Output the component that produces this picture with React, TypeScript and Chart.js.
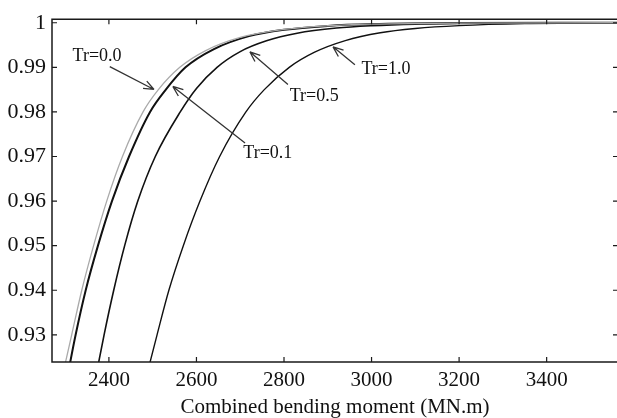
import React, { useEffect, useRef } from "react";
import { Chart, registerables } from "chart.js";

Chart.register(...registerables);

// ---- data ----
const xTicks = [2400, 2600, 2800, 3000, 3200, 3400];
const xTickLabels = ["2400", "2600", "2800", "3000", "3200", "3400"];
const yTicks = [0.93, 0.94, 0.95, 0.96, 0.97, 0.98, 0.99, 1.0];
const yTickLabels = ["0.93", "0.94", "0.95", "0.96", "0.97", "0.98", "0.99", "1"];

const tr00X = [2292, 2315, 2338, 2365, 2395, 2431, 2478, 2513, 2562, 2620, 2700, 2800, 2900, 3000, 3200, 3565];
const tr00Y = [0.92, 0.93, 0.94, 0.95, 0.96, 0.97, 0.98, 0.985, 0.99, 0.9937, 0.9967, 0.9985, 0.99933, 0.9997, 0.99994, 1.0];

const tr01X = [2304, 2324, 2347, 2375, 2407, 2446, 2494, 2530, 2575, 2640, 2720, 2800, 2900, 3000, 3200, 3565];
const tr01Y = [0.92, 0.93, 0.94, 0.95, 0.96, 0.97, 0.98, 0.985, 0.99, 0.9941, 0.997, 0.99843, 0.9993, 0.9997, 0.99994, 1.0];

const tr05X = [2369, 2389, 2411, 2436, 2466, 2506, 2563, 2600, 2647, 2700, 2760, 2830, 2920, 3000, 3100, 3250, 3565];
const tr05Y = [0.92, 0.93, 0.94, 0.95, 0.96, 0.97, 0.98, 0.98526, 0.99, 0.99353, 0.99595, 0.99765, 0.99881, 0.99934, 0.9997, 0.9999, 1.0];

const tr10X = [2484, 2510, 2537, 2570, 2608, 2653, 2713, 2755, 2812, 2870, 2940, 3020, 3100, 3200, 3350, 3565];
const tr10Y = [0.92, 0.93, 0.94, 0.95, 0.96, 0.97, 0.98, 0.985, 0.99, 0.9934, 0.996, 0.99775, 0.9987, 0.99935, 0.9998, 0.99995];

const seriesNames = ["Tr=0.0", "Tr=0.1", "Tr=0.5", "Tr=1.0"];

// annotation label positions (data coords) and arrow from/to (data coords)
const annoTextX = [2373, 2763, 2869, 3033];
const annoTextY = [0.99238, 0.97082, 0.98349, 0.98949];
const arrowFromX = [2402, 2711, 2809, 2962];
const arrowFromY = [0.99016, 0.97304, 0.98616, 0.9906];
const arrowToX = [2503, 2546, 2722, 2912];
const arrowToY = [0.98504, 0.98571, 0.99349, 0.9946];

const X_MIN = 2270;
const X_MAX = 3563;
const Y_MIN = 0.9239;
const Y_MAX = 1.0008;

const FONT = "'Liberation Serif', 'DejaVu Serif', 'Times New Roman', serif";

const zip = (xs: number[], ys: number[]) => xs.map((x, i) => ({ x, y: ys[i] }));

const framePlugin = {
  id: "frame",
  afterDraw(chart: any) {
    const { ctx, chartArea, scales } = chart;
    const { left, right, top, bottom } = chartArea;
    const xs = scales.x;
    const ys = scales.y;
    ctx.save();
    ctx.strokeStyle = "#1a1a1a";
    ctx.lineWidth = 1.5;
    ctx.beginPath();
    ctx.rect(left, top, right - left, bottom - top);
    ctx.stroke();
    const tl = 5;
    ctx.lineWidth = 1.2;
    ctx.beginPath();
    xTicks.forEach((v) => {
      const px = xs.getPixelForValue(v);
      ctx.moveTo(px, bottom);
      ctx.lineTo(px, bottom - tl);
      ctx.moveTo(px, top);
      ctx.lineTo(px, top + tl);
    });
    yTicks.forEach((v) => {
      const py = ys.getPixelForValue(v);
      ctx.moveTo(left, py);
      ctx.lineTo(left + tl, py);
      ctx.moveTo(right, py);
      ctx.lineTo(right - tl, py);
    });
    ctx.stroke();

    // annotations
    ctx.fillStyle = "#111";
    ctx.font = `18px ${FONT}`;
    ctx.textAlign = "center";
    ctx.textBaseline = "middle";
    seriesNames.forEach((name, i) => {
      ctx.fillText(name, xs.getPixelForValue(annoTextX[i]), ys.getPixelForValue(annoTextY[i]));
      const x0 = xs.getPixelForValue(arrowFromX[i]);
      const y0 = ys.getPixelForValue(arrowFromY[i]);
      const x1 = xs.getPixelForValue(arrowToX[i]);
      const y1 = ys.getPixelForValue(arrowToY[i]);
      ctx.strokeStyle = "#333";
      ctx.lineWidth = 1.3;
      ctx.beginPath();
      ctx.moveTo(x0, y0);
      ctx.lineTo(x1, y1);
      const ang = Math.atan2(y1 - y0, x1 - x0);
      const hl = 11;
      const ha = 0.38;
      ctx.moveTo(x1, y1);
      ctx.lineTo(x1 - hl * Math.cos(ang - ha), y1 - hl * Math.sin(ang - ha));
      ctx.moveTo(x1, y1);
      ctx.lineTo(x1 - hl * Math.cos(ang + ha), y1 - hl * Math.sin(ang + ha));
      ctx.stroke();
    });
    ctx.restore();
  },
};

export default function App() {
  const ref = useRef<HTMLCanvasElement>(null);
  useEffect(() => {
    document.body.style.margin = "0";
    const canvas = ref.current;
    if (!canvas) return;
    const mk = (label: string, xs: number[], ys: number[], color: string, width: number) => ({
      label,
      data: zip(xs, ys),
      borderColor: color,
      borderWidth: width,
      pointRadius: 0,
      fill: false,
      cubicInterpolationMode: "monotone" as const,
    });
    const chart = new Chart(canvas, {
      type: "line",
      data: {
        datasets: [
          mk(seriesNames[0], tr00X, tr00Y, "#aaaaaa", 1.3),
          mk(seriesNames[1], tr01X, tr01Y, "#111", 2),
          mk(seriesNames[2], tr05X, tr05Y, "#111", 1.6),
          mk(seriesNames[3], tr10X, tr10Y, "#111", 1.4),
        ],
      },
      options: {
        animation: false,
        responsive: false,
        devicePixelRatio: 1,
        layout: { padding: { top: 17, right: 2, left: 0, bottom: 0 } },
        plugins: { legend: { display: false }, tooltip: { enabled: false } },
        scales: {
          x: {
            type: "linear",
            min: X_MIN,
            max: X_MAX,
            grid: { display: false, drawTicks: false },
            border: { display: false },
            afterBuildTicks: (s: any) => {
              s.ticks = xTicks.map((v) => ({ value: v }));
            },
            afterFit: (s: any) => {
              s.height = 56;
            },
            ticks: {
              autoSkip: false,
              maxRotation: 0,
              padding: 6,
              color: "#111",
              font: { family: FONT, size: 21 },
              callback: (_v: any, i: number) => xTickLabels[i],
            },
            title: {
              display: true,
              text: "Combined bending moment (MN.m)",
              color: "#111",
              font: { family: FONT, size: 21, lineHeight: 1 },
              padding: { top: 0, bottom: 0 },
            },
          },
          y: {
            type: "linear",
            min: Y_MIN,
            max: Y_MAX,
            grid: { display: false, drawTicks: false },
            border: { display: false },
            afterBuildTicks: (s: any) => {
              s.ticks = yTicks.map((v) => ({ value: v }));
            },
            afterFit: (s: any) => {
              s.width = 52;
            },
            ticks: {
              autoSkip: false,
              padding: 6,
              color: "#111",
              font: { family: FONT, size: 22 },
              callback: (_v: any, i: number) => yTickLabels[i],
            },
          },
        },
      },
      plugins: [framePlugin],
    });
    return () => chart.destroy();
  }, []);
  return (
    <div
      style={{
        position: "absolute",
        left: 0,
        top: 0,
        width: 617,
        height: 418,
        overflow: "hidden",
        background: "#fff",
      }}
    >
      <canvas ref={ref} width={620} height={418} style={{ display: "block" }} />
    </div>
  );
}
